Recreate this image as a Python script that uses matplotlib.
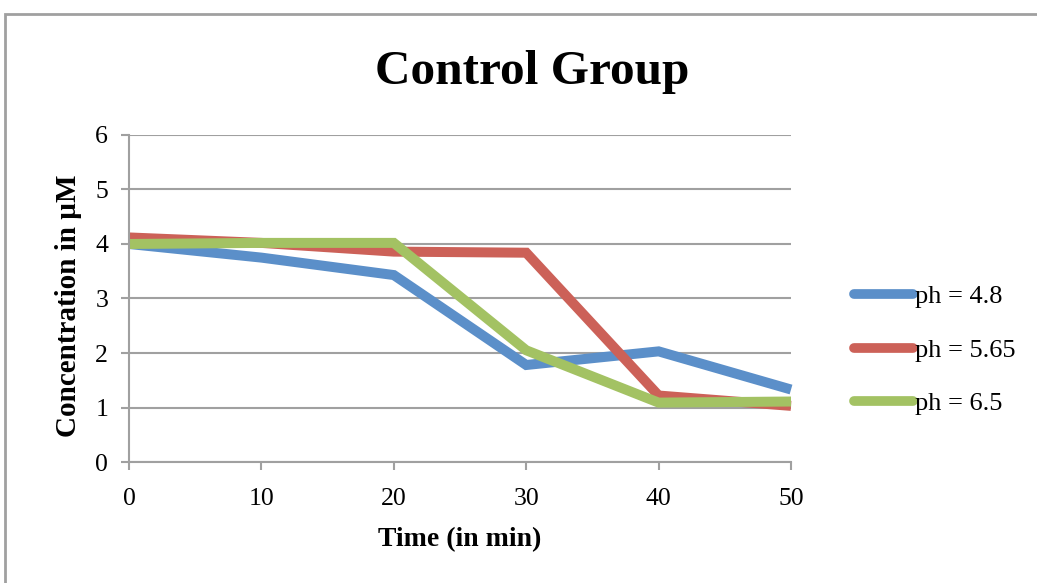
import matplotlib.pyplot as plt
from matplotlib.patches import Rectangle

# 시간(분)과 pH별 농도(µM)
time_min = [0, 10, 20, 30, 40, 50]
ph_48 = [4.0, 3.75, 3.43, 1.78, 2.03, 1.33]
ph_565 = [4.12, 4.02, 3.86, 3.84, 1.22, 1.03]
ph_65 = [4.0, 4.02, 4.02, 2.05, 1.09, 1.11]
labels = ['ph = 4.8', 'ph = 5.65', 'ph = 6.5']
colors = ['#5B8FC9', '#CC6158', '#A3C263']

plt.rcParams['font.family'] = ['Liberation Serif', 'DejaVu Serif']

fig = plt.figure(figsize=(10.37, 5.83), dpi=100)
ax = fig.add_axes([0.1244, 0.2075, 0.6384, 0.561])

for ys, c, lab in zip([ph_48, ph_565, ph_65], colors, labels):
    ax.plot(time_min, ys, color=c, lw=7.2, label=lab, solid_joinstyle='miter',
            solid_capstyle='butt', clip_on=False)

ax.set_xlim(0, 50)
ax.set_ylim(0, 6)
ax.set_xticks(time_min)
ax.set_yticks(range(0, 7))
ax.yaxis.grid(True, color='#A0A0A0', lw=1.5)
ax.set_axisbelow(True)
for s in ['top', 'right']:
    ax.spines[s].set_visible(False)
for s in ['left', 'bottom']:
    ax.spines[s].set_color('#A0A0A0')
    ax.spines[s].set_linewidth(1.5)
ax.tick_params(axis='both', colors='#A0A0A0', width=1.5, length=6, labelsize=18.5,
               labelcolor='black')
ax.tick_params(axis='y', pad=9)
ax.tick_params(axis='x', pad=13)

fig.text(532 / 1037, 1 - 72 / 583, 'Control Group', fontsize=35.5, fontweight='bold',
         ha='center', va='center')
ax.set_xlabel('Time (in min)', fontsize=20, fontweight='bold', labelpad=12)
ax.set_ylabel('Concentration in µM', fontsize=21, fontweight='bold')
ax.yaxis.set_label_coords(-0.071, 0.477)

leg = ax.legend(loc='center left', bbox_to_anchor=(1.059, 0.3425), frameon=False,
                fontsize=19, handlelength=2.25, handletextpad=0.05, labelspacing=1.13)
for h in leg.get_lines():
    h.set_solid_capstyle('round')
    h.set_linewidth(7)

# 바깥 테두리
fig.patches.append(Rectangle((5 / 1037, -0.05), 1.1, 1 - 14 / 583 + 0.05,
                             transform=fig.transFigure, fill=False,
                             edgecolor='#A0A0A0', lw=2, clip_on=False))

fig.savefig('out.png', dpi=100)
